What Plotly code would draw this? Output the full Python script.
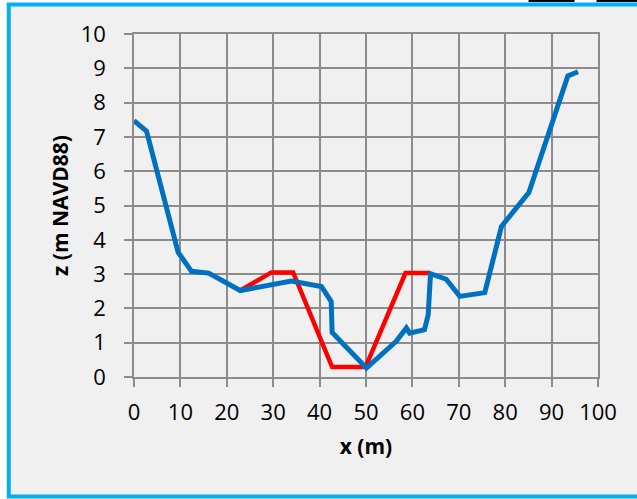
import plotly.graph_objects as go

# ---- data ----
blue_x = [0, 2.7, 9.5, 12.4, 16.1, 22.9, 33.9, 40.4, 42.5, 42.7, 50.1, 56.5, 58.7, 59.4,
          62.6, 63.4, 63.9, 67.3, 70.2, 75.6, 79.2, 85.1, 93.5, 95.7]
blue_z = [7.47, 7.17, 3.64, 3.08, 3.03, 2.52, 2.80, 2.64, 2.20, 1.30, 0.26, 1.04, 1.43, 1.28,
          1.38, 1.81, 3.01, 2.85, 2.35, 2.46, 4.39, 5.38, 8.78, 8.90]
red_x = [22.9, 29.6, 34.3, 42.7, 49.9, 58.5, 63.4, 63.9]
red_z = [2.52, 3.05, 3.05, 0.29, 0.29, 3.03, 3.03, 3.01]
x_ticks = [0, 10, 20, 30, 40, 50, 60, 70, 80, 90, 100]
z_ticks = [0, 1, 2, 3, 4, 5, 6, 7, 8, 9, 10]

W, H = 637, 499
L, R, T, B = 134.3, 38.5, 34, 121.7
PW, PH = W - L - R, H - T - B

def px(x):
    return (x - L) / PW

def py(y):
    return (H - B - y) / PH

fig = go.Figure()
fig.add_trace(go.Scatter(x=red_x, y=red_z, mode="lines",
                         line=dict(color="#FF0000", width=4.5), hoverinfo="skip"))
fig.add_trace(go.Scatter(x=blue_x, y=blue_z, mode="lines",
                         line=dict(color="#0070C0", width=5), hoverinfo="skip"))

grid = "#8C8C8C"
font = "Open Sans, Lato, sans-serif"

shapes = [
    dict(type="rect", xref="paper", yref="paper", layer="below",
         x0=px(9), x1=px(660), y0=py(4.5), y1=py(497),
         line=dict(color="#00B0F0", width=4), fillcolor="#F0F0F0"),
    dict(type="rect", xref="paper", yref="paper", layer="above",
         x0=px(529), x1=px(575), y0=py(2), y1=py(-20),
         line=dict(width=0), fillcolor="#000000"),
    dict(type="rect", xref="paper", yref="paper", layer="above",
         x0=px(597), x1=px(660), y0=py(2), y1=py(-20),
         line=dict(width=0), fillcolor="#000000"),
]

fig.update_layout(
    width=W, height=H,
    margin=dict(l=L, r=R, t=T, b=B, autoexpand=False),
    paper_bgcolor="#FFFFFF",
    plot_bgcolor="rgba(0,0,0,0)",
    showlegend=False,
    font=dict(family=font, size=22, color="#000000"),
    shapes=shapes,
    xaxis=dict(range=[0, 100], tickvals=x_ticks, ticktext=[str(v) for v in x_ticks],
               showgrid=True, gridcolor=grid, gridwidth=1.5,
               showline=True, linecolor=grid, linewidth=1.5, mirror=True,
               ticks="outside", ticklen=8, tickcolor=grid, tickwidth=1.5,
               ticklabelstandoff=7, zeroline=False, automargin=False,
               title=dict(text="<b>x (m)</b>", font=dict(size=21), standoff=14)),
    yaxis=dict(range=[0, 10], tickvals=z_ticks, ticktext=[str(v) for v in z_ticks],
               showgrid=True, gridcolor=grid, gridwidth=1.5,
               showline=True, linecolor=grid, linewidth=1.5, mirror=True,
               ticks="outside", ticklen=8, tickcolor=grid, tickwidth=1.5,
               ticklabelstandoff=14, zeroline=False, automargin=False,
               title=dict(text="<b>z (m NAVD88)</b>", font=dict(size=21), standoff=6)),
)

fig.write_html("out.html", config={"displayModeBar": False},
               post_script="document.body.style.margin='0';")
